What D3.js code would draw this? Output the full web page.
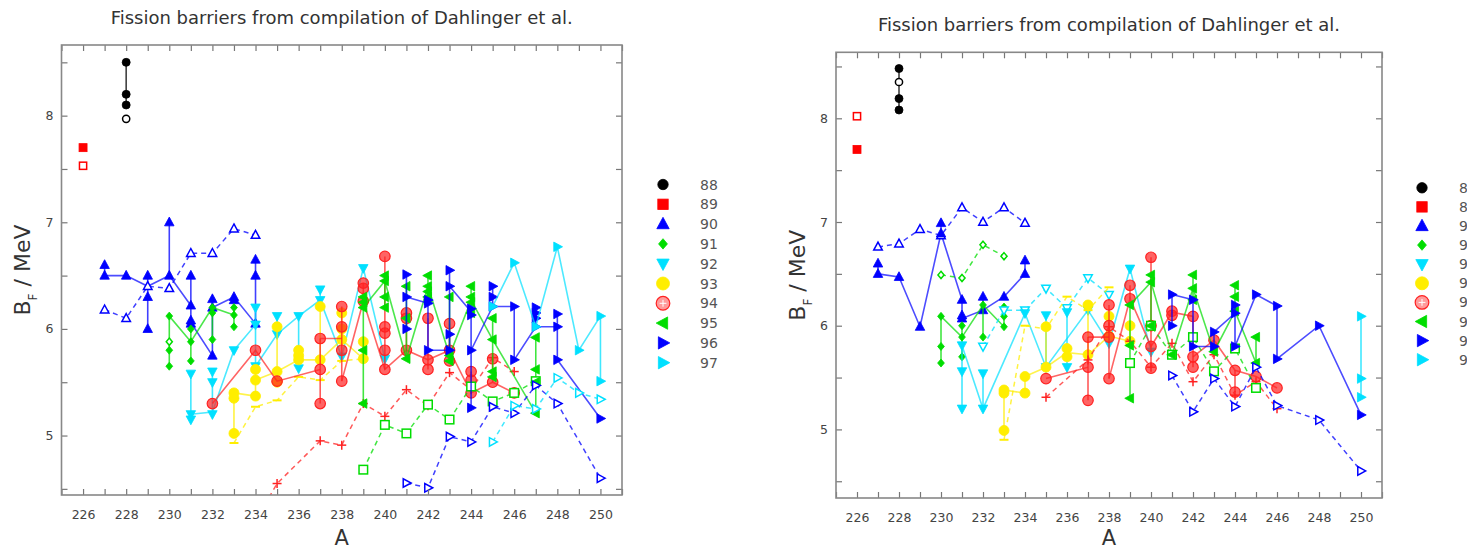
<!DOCTYPE html>
<html><head><meta charset="utf-8">
<script src="https://cdn.jsdelivr.net/npm/d3@7"></script>
<style>
body{margin:0;background:#fff;}
svg{display:block;}
text{font-family:"DejaVu Sans",sans-serif;}
</style>
</head><body>
<svg id="c" width="1467" height="550"></svg>
<script>
// ---------- categories / ticks ----------
const elements = [88, 89, 90, 91, 92, 93, 94, 95, 96, 97];
const xTickValues = d3.range(225, 252);
const xLabelValues = [226, 228, 230, 232, 234, 236, 238, 240, 242, 244, 246, 248, 250];
const yTickValues = [4.5, 5, 5.5, 6, 6.5, 7, 7.5, 8, 8.5];
const yLabelValues = [5, 6, 7, 8];
const titleText = "Fission barriers from compilation of Dahlinger et al.";

// ---------- LEFT panel data ----------
const L88_solid = [[228, [8.5, 8.2, 8.1]]];
const L88_line = [];
const L88_open = [[228, 7.97]];
const L89_solid = [[226, [7.7]]];
const L89_line = [];
const L89_open = [[226, 7.53]];
const L90_solid = [[227, [6.6, 6.5]], [228, [6.5]], [229, [6.5, 6.3, 6.0]], [230, [7.0, 6.5]], [231, [6.5, 6.22, 6.08, 6.05]], [232, [6.28, 6.2, 5.75]], [233, [6.3, 6.27]], [234, [6.65, 6.5, 6.05]]];
const L90_line = [[227, 6.5], [228, 6.5], [229, 6.4], [230, 6.5], [231, 6.22], null, [231, 6.06], [232, 5.75], null, [232, 6.2], [233, 6.3], [234, 6.05]];
const L90_open = [[227, 6.18], [228, 6.1], [229, 6.4], [230, 6.38], [231, 6.71], [232, 6.71], [233, 6.94], [234, 6.88]];
const L91_solid = [[230, [6.12, 5.8, 5.65]], [231, [6.0, 5.88, 5.7]], [232, [6.2, 6.15, 5.9]], [233, [6.2, 6.13, 6.02]]];
const L91_line = [[230, 6.12], [231, 5.88], [232, 6.2], [233, 6.13]];
const L91_open = [[230, 5.88]];
const L92_solid = [[231, [5.58, 5.2, 5.15]], [232, [5.6, 5.5, 5.2]], [233, [5.8]], [234, [6.2, 6.04, 5.65]], [235, [6.12, 5.95]], [236, [6.12, 5.63]], [237, [6.37, 6.27]], [238, [5.74]], [239, [6.57]], [240, [5.72]]];
const L92_line = [[231, 5.2], [232, 5.22], [233, 5.8], [234, 6.04], null, [234, 5.65], [235, 5.95], [236, 6.12], [237, 6.27], [238, 5.74], [239, 6.57], [240, 5.72]];
const L92_open = [];
const L93_solid = [[233, [5.4, 5.35, 5.02]], [234, [5.62, 5.52, 5.37]], [235, [6.02, 5.6, 5.5]], [236, [5.8, 5.75, 5.71]], [237, [6.21, 5.71]], [238, [6.15, 6.0, 5.9]], [239, [5.88, 5.72]]];
const L93_line = [[233, 5.4], [234, 5.37], null, [234, 5.52], [235, 5.6], [236, 5.71], [237, 5.71], [238, 5.9], [239, 5.72]];
const L93_open = [[233, 4.93], [234, 5.27], [235, 5.33], [236, 5.55], [237, 5.52], [238, 5.7], [239, 5.72]];
const L94_solid = [[232, [5.3]], [234, [5.8]], [235, [5.51]], [237, [5.91, 5.62, 5.3]], [238, [6.21, 6.02, 5.8, 5.51]], [239, [6.43, 6.38, 6.26]], [240, [6.68, 6.02, 5.96, 5.8, 5.62]], [241, [6.15, 6.1, 5.8]], [242, [6.1, 5.71, 5.62]], [243, [6.05, 5.8, 5.7]], [244, [5.6, 5.52, 5.4]], [245, [5.72, 5.5]], [246, [5.4]]];
const L94_line = [[232, 5.3], [234, 5.8], [235, 5.51], [237, 5.62], null, [237, 5.91], [238, 5.91], null, [238, 5.51], [239, 6.26], [240, 5.62], [241, 5.8], [242, 5.71], [243, 5.8], [244, 5.4], [245, 5.5], [246, 5.4]];
const L94_open = [[234, 4.2], [235, 4.55], [237, 4.95], [238, 4.91], [239, 5.3], [240, 5.18], [241, 5.43], [242, 5.28], [243, 5.59], [244, 5.43], [245, 5.73], [246, 5.6]];
const L95_solid = [[239, [6.3, 6.25, 6.2, 5.8, 5.3]], [240, [6.5, 6.45, 6.3, 6.2]], [241, [6.4, 6.1, 5.72]], [242, [6.5, 6.4, 6.35, 6.3]], [243, [6.3, 5.75, 5.7]], [244, [6.4, 6.3, 6.25, 6.15]], [245, [6.1, 5.9, 5.6, 5.55]], [247, [5.92, 5.62, 5.5, 5.21]]];
const L95_line = [[239, 6.2], [240, 6.45], [241, 5.72], [242, 6.4], [243, 5.75], [244, 6.27], [245, 5.9], [247, 5.21]];
const L95_open = [[239, 4.68], [240, 5.1], [241, 5.02], [242, 5.29], [243, 5.15], [244, 5.46], [245, 5.32], [246, 5.4], [247, 5.51]];
const L96_solid = [[241, [6.51, 6.3, 6.0]], [242, [6.27, 6.24, 5.8]], [243, [6.55, 6.4, 5.95, 5.8]], [244, [6.19, 6.13, 5.8, 5.26]], [245, [6.4, 6.3, 6.21]], [246, [6.21, 5.71]], [247, [6.2, 6.15, 6.1, 6.02]], [248, [6.14, 6.02, 5.71]], [250, [5.16]]];
const L96_line = [[241, 6.3], [242, 6.24], null, [242, 5.8], [243, 5.8], null, [243, 6.4], [244, 6.16], null, [244, 5.8], [245, 6.21], [246, 6.21], null, [246, 5.71], [247, 6.02], [248, 6.02], null, [248, 5.71], [250, 5.16]];
const L96_open = [[241, 4.555], [242, 4.51], [243, 4.99], [244, 4.94], [245, 5.27], [246, 5.21], [247, 5.47], [248, 5.3], [250, 4.6]];
const L97_solid = [[245, [6.21]], [246, [6.62]], [247, [6.02]], [248, [6.77]], [249, [5.8]], [250, [6.12, 5.51]]];
const L97_line = [[245, 6.21], [246, 6.62], [247, 6.02], [248, 6.77], [249, 5.8], [250, 6.12]];
const L97_open = [[245, 4.94], [246, 5.28], [247, 5.25], [248, 5.54], [249, 5.4], [250, 5.34]];

// ---------- RIGHT panel data ----------
const R88_solid = [[228, [8.48, 8.19, 8.08]]];
const R88_line = [];
const R88_open = [[228, 8.35]];
const R89_solid = [[226, [7.7]]];
const R89_line = [];
const R89_open = [[226, 8.02]];
const R90_solid = [[227, [6.6, 6.5]], [228, [6.47]], [229, [5.99]], [230, [6.99, 6.89]], [231, [6.25, 6.1, 6.07]], [232, [6.28, 6.15]], [233, [6.28]], [234, [6.63, 6.5]]];
const R90_line = [[227, 6.5], [228, 6.47], [229, 5.99], [230, 6.89], [231, 6.25], null, [231, 6.07], [232, 6.15], [233, 6.28], [234, 6.5]];
const R90_open = [[227, 6.76], [228, 6.79], [229, 6.93], [230, 6.87], [231, 7.14], [232, 7.0], [233, 7.14], [234, 6.99]];
const R91_solid = [[230, [6.09, 5.8, 5.64]], [231, [6.0, 5.89, 5.7]], [232, [6.2, 5.89]], [233, [6.18, 6.09, 5.99]]];
const R91_line = [[230, 6.09], [231, 5.89], [232, 6.2], [233, 5.99]];
const R91_open = [[230, 6.49], [231, 6.46], [232, 6.78], [233, 6.67]];
const R92_solid = [[231, [5.81, 5.56, 5.2]], [232, [5.54, 5.2]], [234, [6.12]], [235, [6.1, 5.6]], [236, [6.13, 5.6]], [237, [6.15]], [238, [5.83]], [239, [6.55]], [240, [5.75]]];
const R92_line = [[231, 5.81], [232, 5.2], [234, 6.12], [235, 5.6], [237, 6.15], [238, 5.83], [239, 6.55], [240, 5.75]];
const R92_open = [[232, 5.8], [233, 6.15], [234, 6.15], [235, 6.36], [236, 6.17], [237, 6.46], [238, 6.3]];
const R93_solid = [[233, [5.38, 5.35, 4.99]], [234, [5.51, 5.35]], [235, [5.99, 5.6]], [236, [5.78, 5.7]], [237, [6.2, 5.72]], [238, [6.09, 5.9]], [239, [6.0, 5.85]]];
const R93_line = [[233, 5.38], [234, 5.35], null, [234, 5.51], [235, 5.6], [236, 5.74], [237, 5.72], [238, 5.9], [239, 5.85]];
const R93_open = [[233, 4.9], [234, 6.0], [235, 5.97], [236, 6.28], [237, 6.15], [238, 6.37]];
const R94_solid = [[235, [5.49]], [237, [5.89, 5.6, 5.28]], [238, [6.2, 6.0, 5.89, 5.49]], [239, [6.39, 6.26]], [240, [6.66, 6.0, 5.8, 5.59]], [241, [6.14, 6.1]], [242, [6.09, 5.7, 5.6]], [243, [5.86]], [244, [5.57, 5.36]], [245, [5.51]], [246, [5.4]]];
const R94_line = [[235, 5.49], [237, 5.6], null, [237, 5.89], [238, 5.89], null, [238, 5.49], [239, 6.26], [240, 5.8], [241, 6.13], [242, 6.09], null, [242, 5.7], [243, 5.86], [244, 5.57], [245, 5.51], [246, 5.4]];
const R94_open = [[235, 5.31], [237, 5.67], [238, 5.99], [239, 5.85], [240, 5.6], [241, 5.83], [242, 5.46], [243, 5.72], [244, 5.33], [245, 5.46], [246, 5.2]];
const R95_solid = [[239, [6.2, 5.81, 5.3]], [240, [6.49, 6.42, 6.0]], [241, [5.72]], [242, [6.49, 6.36, 6.25]], [243, [5.75]], [244, [6.39, 6.28, 6.14]], [245, [5.89, 5.64]]];
const R95_line = [[239, 6.2], [240, 6.42], [241, 5.72], [242, 6.36], [243, 5.75], [244, 6.14], [245, 5.64]];
const R95_open = [[239, 5.64], [240, 6.0], [241, 5.72], [242, 5.89], [243, 5.56], [244, 5.78], [245, 5.4]];
const R96_solid = [[241, [6.3, 6.0]], [242, [6.25, 5.8]], [243, [5.94, 5.8]], [244, [6.2, 6.12, 5.8]], [245, [6.3]], [246, [6.19, 5.68]], [248, [6.0]], [250, [5.14]]];
const R96_line = [[241, 6.3], [242, 6.25], null, [242, 5.8], [243, 5.8], null, [243, 5.94], [244, 6.12], null, [244, 5.8], [245, 6.3], [246, 6.19], null, [246, 5.68], [248, 6.0], [250, 5.14]];
const R96_open = [[241, 5.52], [242, 5.17], [243, 5.49], [244, 5.22], [245, 5.6], [246, 5.23], [248, 5.09], [250, 4.6]];
const R97_solid = [[250, [6.09, 5.49, 5.31]]];
const R97_line = [];
const R97_open = [];

// ---------- assemble tables ----------
const leftData = [
  [88, L88_solid, L88_line, L88_open], [89, L89_solid, L89_line, L89_open],
  [90, L90_solid, L90_line, L90_open], [91, L91_solid, L91_line, L91_open],
  [92, L92_solid, L92_line, L92_open], [93, L93_solid, L93_line, L93_open],
  [94, L94_solid, L94_line, L94_open], [95, L95_solid, L95_line, L95_open],
  [96, L96_solid, L96_line, L96_open], [97, L97_solid, L97_line, L97_open]];
const rightData = [
  [88, R88_solid, R88_line, R88_open], [89, R89_solid, R89_line, R89_open],
  [90, R90_solid, R90_line, R90_open], [91, R91_solid, R91_line, R91_open],
  [92, R92_solid, R92_line, R92_open], [93, R93_solid, R93_line, R93_open],
  [94, R94_solid, R94_line, R94_open], [95, R95_solid, R95_line, R95_open],
  [96, R96_solid, R96_line, R96_open], [97, R97_solid, R97_line, R97_open]];

// ---------- styles ----------
const style = {
  88: {c: "#000000", shape: "circle", open: "circle", s: 8},
  89: {c: "#ff0000", shape: "square", open: "square", s: 8},
  90: {c: "#0000ff", shape: "triU", open: "triU", s: 9.5},
  91: {c: "#00dd00", shape: "diamond", open: "diamond", s: 8},
  92: {c: "#00e0ff", shape: "triD", open: "triD", s: 9.5},
  93: {c: "#ffee00", shape: "circle", open: "dash", s: 10},
  94: {c: "#ff2222", shape: "circX", open: "plus", s: 10.5},
  95: {c: "#00dd00", shape: "triL", open: "square", s: 9.5},
  96: {c: "#0000ff", shape: "triR", open: "triR", s: 9.5},
  97: {c: "#00e0ff", shape: "triR", open: "triR", s: 9.5}
};

const panels = [
  {id: "L", data: leftData, left: 61.5, right: 622, top: 45, bottom: 495, yDom: [4.4424, 8.6626],
   titleY: 23.5, yTitleX: 30, xTitleY: 545, legX: 663, legY: 184.5, legDy: 19.8},
  {id: "R", data: rightData, left: 836, right: 1382, top: 52.3, bottom: 498, yDom: [4.3385, 8.6365],
   titleY: 31, yTitleX: 805, xTitleY: 545, legX: 1422, legY: 187.8, legDy: 19.1}
];

const svg = d3.select("#c");

function triPath(s, rot) {
  const h = s * 0.5;
  const pts = [[0, -h * 1.1], [h, h * 0.75], [-h, h * 0.75]];
  const a = rot * Math.PI / 180;
  return "M" + pts.map(p => [p[0] * Math.cos(a) - p[1] * Math.sin(a), p[0] * Math.sin(a) + p[1] * Math.cos(a)].join(",")).join("L") + "Z";
}

function marker(g, shape, cx, cy, s, color, filled) {
  const fill = filled ? color : "#fff";
  const sw = filled ? 0.8 : 1.5;
  const m = g.append("g").attr("transform", `translate(${cx},${cy})`);
  if (shape === "circle") {
    m.append("circle").attr("r", s / 2).attr("fill", fill).attr("stroke", color).attr("stroke-width", sw);
  } else if (shape === "square") {
    m.append("rect").attr("x", -s / 2).attr("y", -s / 2).attr("width", s).attr("height", s)
      .attr("fill", fill).attr("stroke", color).attr("stroke-width", sw);
  } else if (shape === "diamond") {
    const h = s / 2;
    m.append("path").attr("d", `M0,${-h}L${h * 0.85},0L0,${h}L${-h * 0.85},0Z`)
      .attr("fill", fill).attr("stroke", color).attr("stroke-width", sw);
  } else if (shape.startsWith("tri")) {
    const rot = {triU: 0, triD: 180, triL: -90, triR: 90}[shape];
    m.append("path").attr("d", triPath(s, rot)).attr("fill", fill).attr("stroke", color).attr("stroke-width", sw);
  } else if (shape === "circX") {
    m.append("circle").attr("r", s / 2).attr("fill", color).attr("fill-opacity", filled ? 0.7 : 0.45)
      .attr("stroke", color).attr("stroke-width", 1.2);
    if (!filled) {
      m.append("line").attr("x1", -s * 0.25).attr("x2", s * 0.25).attr("stroke", "#fff").attr("stroke-width", 1);
      m.append("line").attr("y1", -s * 0.25).attr("y2", s * 0.25).attr("stroke", "#fff").attr("stroke-width", 1);
    }
  } else if (shape === "plus") {
    m.append("line").attr("x1", -s / 2).attr("x2", s / 2).attr("stroke", color).attr("stroke-width", 1.5);
    m.append("line").attr("y1", -s / 2).attr("y2", s / 2).attr("stroke", color).attr("stroke-width", 1.5);
  } else if (shape === "dash") {
    m.append("line").attr("x1", -s / 2).attr("x2", s / 2).attr("stroke", color).attr("stroke-width", 2);
  }
}

panels.forEach(p => {
  const x = d3.scaleLinear().domain([225, 251]).range([p.left, p.right]);
  const y = d3.scaleLinear().domain(p.yDom).range([p.bottom, p.top]);
  const g = svg.append("g");
  const clipId = "clip" + p.id;
  svg.append("clipPath").attr("id", clipId).append("rect")
    .attr("x", p.left).attr("y", p.top).attr("width", p.right - p.left).attr("height", p.bottom - p.top);
  const plot = g.append("g").attr("clip-path", `url(#${clipId})`);
  const line = d3.line().defined(d => d != null).x(d => x(d[0])).y(d => y(d[1]));

  p.data.forEach(([z, solid, ln, open]) => {
    const st = style[z];
    if (open.length > 1) {
      plot.append("path").attr("d", line(open)).attr("fill", "none").attr("stroke", st.c)
        .attr("stroke-opacity", 0.75).attr("stroke-width", 1.5).attr("stroke-dasharray", "5,4");
    }
    if (ln.length > 1) {
      plot.append("path").attr("d", line(ln)).attr("fill", "none").attr("stroke", st.c)
        .attr("stroke-opacity", 0.7).attr("stroke-width", 1.6);
    }
    solid.forEach(([a, vals]) => {
      if (vals.length > 1) {
        plot.append("line").attr("x1", x(a)).attr("x2", x(a))
          .attr("y1", y(d3.max(vals))).attr("y2", y(d3.min(vals)))
          .attr("stroke", st.c).attr("stroke-opacity", 0.75).attr("stroke-width", 1.6);
      }
    });
    open.forEach(([a, v]) => marker(plot, st.open, x(a), y(v), st.open === "plus" || st.open === "dash" ? 9 : st.s * 0.9, st.c, false));
    solid.forEach(([a, vals]) => vals.forEach(v => marker(plot, st.shape, x(a), y(v), st.s, st.c, true)));
  });

  const tickCol = "#777";
  const ax = [
    g.append("g").attr("transform", `translate(0,${p.bottom})`)
      .call(d3.axisBottom(x).tickValues(xTickValues).tickSize(-6).tickSizeOuter(0).tickPadding(15)
        .tickFormat(d => xLabelValues.includes(d) ? d : "")),
    g.append("g").attr("transform", `translate(0,${p.top})`)
      .call(d3.axisTop(x).tickValues(xTickValues).tickSize(-6).tickSizeOuter(0).tickFormat("")),
    g.append("g").attr("transform", `translate(${p.left},0)`)
      .call(d3.axisLeft(y).tickValues(yTickValues).tickSize(-6).tickSizeOuter(0).tickPadding(8)
        .tickFormat(d => yLabelValues.includes(d) ? d : "")),
    g.append("g").attr("transform", `translate(${p.right},0)`)
      .call(d3.axisRight(y).tickValues(yTickValues).tickSize(-6).tickSizeOuter(0).tickFormat(""))
  ];
  ax.forEach(a => {
    a.select(".domain").remove();
    a.selectAll(".tick line").attr("stroke", tickCol).attr("stroke-width", 1.2);
    a.selectAll(".tick text").attr("fill", "#444").style("font-size", "12.5px")
      .style("font-family", "'DejaVu Sans', sans-serif");
  });
  g.append("rect").attr("x", p.left).attr("y", p.top).attr("width", p.right - p.left)
    .attr("height", p.bottom - p.top).attr("fill", "none").attr("stroke", "#888").attr("stroke-width", 1.6);

  const cx = (p.left + p.right) / 2;
  g.append("text").attr("x", cx).attr("y", p.titleY).attr("text-anchor", "middle")
    .attr("fill", "#333").style("font-size", "18px").text(titleText);
  g.append("text").attr("x", cx).attr("y", p.xTitleY).attr("text-anchor", "middle")
    .attr("fill", "#333").style("font-size", "21px").text("A");
  const yt = g.append("text").attr("transform", `translate(${p.yTitleX},${(p.top + p.bottom) / 2}) rotate(-90)`)
    .attr("text-anchor", "middle").attr("fill", "#333").style("font-size", "22px");
  yt.append("tspan").text("B");
  yt.append("tspan").attr("baseline-shift", "sub").style("font-size", "12px").text("F");
  yt.append("tspan").text(" / MeV");

  elements.forEach((z, i) => {
    const st = style[z];
    const ly = p.legY + i * p.legDy;
    marker(g, st.shape, p.legX, ly, st.s * 1.3, st.c, st.shape !== "circX");
    g.append("text").attr("x", p.legX + 37).attr("y", ly).attr("dy", "0.36em")
      .attr("fill", "#555").style("font-size", "14px").text(z);
  });
});
</script>
</body></html>
